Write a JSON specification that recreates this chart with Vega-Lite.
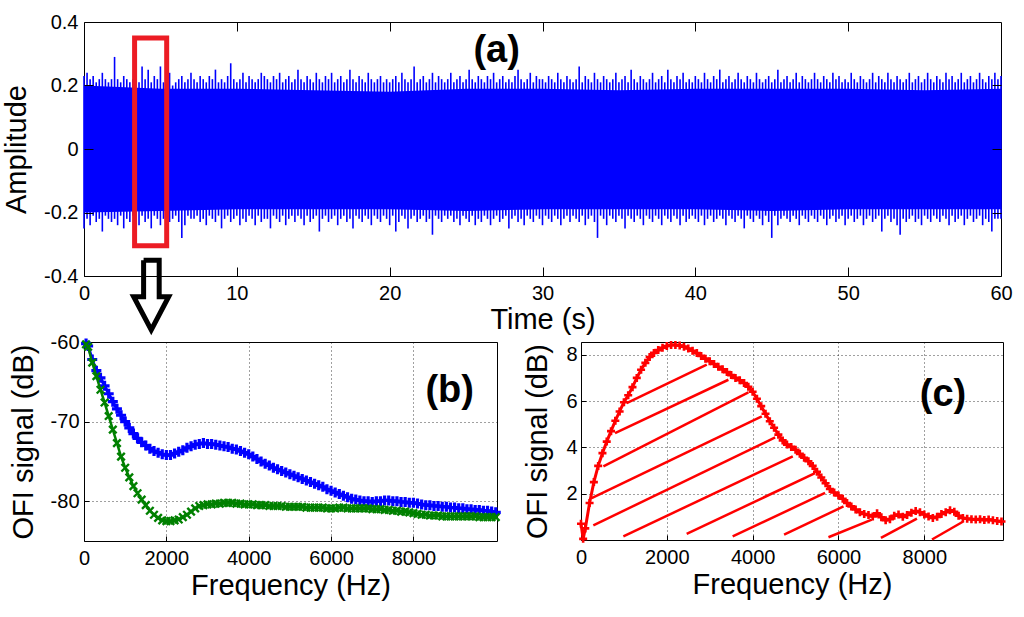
{
  "$schema": "https://vega.github.io/schema/vega-lite/v6.json",
  "background": "white",
  "padding": {"left": 2, "top": 11, "right": 5, "bottom": 5},
  "bounds": "flush",
  "spacing": 66,
  "config": {
    "font": "Liberation Sans",
    "view": {"stroke": "#000", "strokeWidth": 1},
    "axis": {
      "labelFont": "Liberation Sans", "labelFontSize": 20, "labelColor": "#000",
      "titleFont": "Liberation Sans", "titleFontSize": 29, "titleFontWeight": "normal", "titleColor": "#000",
      "domain": false, "tickColor": "#000", "tickWidth": 1, "labelFlush": false, "labelOverlap": false,
      "gridColor": "#000", "gridDash": [1, 3], "gridOpacity": 0.75, "gridWidth": 1
    }
  },
  "datasets": {
    "core": [
      {"t":0,"top":0.2,"bot":-0.2},{"t":5,"top":0.19,"bot":-0.195},{"t":10,"top":0.19,"bot":-0.19},
      {"t":15,"top":0.185,"bot":-0.19},{"t":20,"top":0.18,"bot":-0.19},{"t":25,"top":0.19,"bot":-0.195},
      {"t":30,"top":0.19,"bot":-0.19},{"t":35,"top":0.185,"bot":-0.19},{"t":40,"top":0.19,"bot":-0.19},
      {"t":45,"top":0.19,"bot":-0.195},{"t":50,"top":0.19,"bot":-0.19},{"t":55,"top":0.185,"bot":-0.19},
      {"t":60,"top":0.19,"bot":-0.19}
    ],
    "spikes": [
      {"t":0.0,"hi":0.23,"lo":-0.25},{"t":0.2,"hi":0.24,"lo":-0.22},{"t":0.4,"hi":0.22,"lo":-0.24},{"t":0.6,"hi":0.23,"lo":-0.21},{"t":0.8,"hi":0.21,"lo":-0.23},
      {"t":1.0,"hi":0.22,"lo":-0.22},{"t":1.2,"hi":0.24,"lo":-0.26},{"t":1.4,"hi":0.22,"lo":-0.21},{"t":1.6,"hi":0.21,"lo":-0.22},{"t":1.8,"hi":0.22,"lo":-0.23},
      {"t":2.0,"hi":0.29,"lo":-0.22},{"t":2.2,"hi":0.22,"lo":-0.24},{"t":2.4,"hi":0.21,"lo":-0.21},{"t":2.6,"hi":0.23,"lo":-0.25},{"t":2.8,"hi":0.22,"lo":-0.22},
      {"t":3.0,"hi":0.21,"lo":-0.23},{"t":3.2,"hi":0.22,"lo":-0.21},{"t":3.4,"hi":0.24,"lo":-0.22},{"t":3.6,"hi":0.21,"lo":-0.24},{"t":3.8,"hi":0.26,"lo":-0.21},
      {"t":4.0,"hi":0.22,"lo":-0.23},{"t":4.2,"hi":0.25,"lo":-0.22},{"t":4.4,"hi":0.21,"lo":-0.25},{"t":4.6,"hi":0.23,"lo":-0.21},{"t":4.8,"hi":0.22,"lo":-0.22},
      {"t":5.0,"hi":0.26,"lo":-0.24},{"t":5.2,"hi":0.21,"lo":-0.22},{"t":5.4,"hi":0.22,"lo":-0.21},{"t":5.6,"hi":0.24,"lo":-0.23},{"t":5.8,"hi":0.20,"lo":-0.22},
      {"t":6.0,"hi":0.21,"lo":-0.21},{"t":6.2,"hi":0.22,"lo":-0.23},{"t":6.4,"hi":0.23,"lo":-0.28},{"t":6.6,"hi":0.21,"lo":-0.24},{"t":6.8,"hi":0.22,"lo":-0.21},
      {"t":7.0,"hi":0.24,"lo":-0.22},{"t":7.2,"hi":0.22,"lo":-0.22},{"t":7.4,"hi":0.21,"lo":-0.21},{"t":7.6,"hi":0.23,"lo":-0.23},{"t":7.8,"hi":0.22,"lo":-0.22},
      {"t":8.0,"hi":0.21,"lo":-0.24},{"t":8.2,"hi":0.23,"lo":-0.21},{"t":8.4,"hi":0.22,"lo":-0.22},{"t":8.6,"hi":0.25,"lo":-0.23},{"t":8.8,"hi":0.21,"lo":-0.21},
      {"t":9.0,"hi":0.22,"lo":-0.25},{"t":9.2,"hi":0.21,"lo":-0.22},{"t":9.4,"hi":0.23,"lo":-0.21},{"t":9.6,"hi":0.27,"lo":-0.23},{"t":9.8,"hi":0.22,"lo":-0.22},
      {"t":10.0,"hi":0.21,"lo":-0.21},{"t":10.2,"hi":0.22,"lo":-0.24},{"t":10.4,"hi":0.24,"lo":-0.22},{"t":10.6,"hi":0.21,"lo":-0.23},{"t":10.8,"hi":0.23,"lo":-0.21},
      {"t":11.0,"hi":0.22,"lo":-0.22},{"t":11.2,"hi":0.21,"lo":-0.24},{"t":11.4,"hi":0.22,"lo":-0.21},{"t":11.6,"hi":0.24,"lo":-0.23},{"t":11.8,"hi":0.23,"lo":-0.22},
      {"t":12.0,"hi":0.22,"lo":-0.22},{"t":12.2,"hi":0.21,"lo":-0.25},{"t":12.4,"hi":0.23,"lo":-0.21},{"t":12.6,"hi":0.22,"lo":-0.22},{"t":12.8,"hi":0.24,"lo":-0.23},
      {"t":13.0,"hi":0.21,"lo":-0.21},{"t":13.2,"hi":0.22,"lo":-0.24},{"t":13.4,"hi":0.23,"lo":-0.22},{"t":13.6,"hi":0.21,"lo":-0.21},{"t":13.8,"hi":0.22,"lo":-0.23},
      {"t":14.0,"hi":0.25,"lo":-0.21},{"t":14.2,"hi":0.22,"lo":-0.22},{"t":14.4,"hi":0.21,"lo":-0.24},{"t":14.6,"hi":0.23,"lo":-0.21},{"t":14.8,"hi":0.22,"lo":-0.23},
      {"t":15.0,"hi":0.21,"lo":-0.22},{"t":15.2,"hi":0.24,"lo":-0.21},{"t":15.4,"hi":0.22,"lo":-0.26},{"t":15.6,"hi":0.21,"lo":-0.22},{"t":15.8,"hi":0.23,"lo":-0.21},
      {"t":16.0,"hi":0.22,"lo":-0.23},{"t":16.2,"hi":0.24,"lo":-0.22},{"t":16.4,"hi":0.21,"lo":-0.21},{"t":16.6,"hi":0.22,"lo":-0.24},{"t":16.8,"hi":0.23,"lo":-0.22},
      {"t":17.0,"hi":0.21,"lo":-0.21},{"t":17.2,"hi":0.22,"lo":-0.23},{"t":17.4,"hi":0.25,"lo":-0.22},{"t":17.6,"hi":0.22,"lo":-0.25},{"t":17.8,"hi":0.21,"lo":-0.21},
      {"t":18.0,"hi":0.23,"lo":-0.22},{"t":18.2,"hi":0.22,"lo":-0.23},{"t":18.4,"hi":0.21,"lo":-0.21},{"t":18.6,"hi":0.24,"lo":-0.22},{"t":18.8,"hi":0.22,"lo":-0.24},
      {"t":19.0,"hi":0.21,"lo":-0.21},{"t":19.2,"hi":0.22,"lo":-0.22},{"t":19.4,"hi":0.23,"lo":-0.23},{"t":19.6,"hi":0.21,"lo":-0.21},{"t":19.8,"hi":0.22,"lo":-0.22},
      {"t":20.0,"hi":0.21,"lo":-0.24},{"t":20.2,"hi":0.22,"lo":-0.21},{"t":20.4,"hi":0.23,"lo":-0.26},{"t":20.6,"hi":0.21,"lo":-0.23},{"t":20.8,"hi":0.24,"lo":-0.21},
      {"t":21.0,"hi":0.22,"lo":-0.22},{"t":21.2,"hi":0.21,"lo":-0.25},{"t":21.4,"hi":0.22,"lo":-0.22},{"t":21.6,"hi":0.26,"lo":-0.21},{"t":21.8,"hi":0.21,"lo":-0.23},
      {"t":22.0,"hi":0.22,"lo":-0.22},{"t":22.2,"hi":0.23,"lo":-0.21},{"t":22.4,"hi":0.21,"lo":-0.23},{"t":22.6,"hi":0.22,"lo":-0.22},{"t":22.8,"hi":0.24,"lo":-0.27},
      {"t":23.0,"hi":0.21,"lo":-0.21},{"t":23.2,"hi":0.23,"lo":-0.22},{"t":23.4,"hi":0.22,"lo":-0.23},{"t":23.6,"hi":0.21,"lo":-0.21},{"t":23.8,"hi":0.22,"lo":-0.22},
      {"t":24.0,"hi":0.24,"lo":-0.21},{"t":24.2,"hi":0.21,"lo":-0.23},{"t":24.4,"hi":0.22,"lo":-0.22},{"t":24.6,"hi":0.23,"lo":-0.24},{"t":24.8,"hi":0.21,"lo":-0.21},
      {"t":25.0,"hi":0.22,"lo":-0.22},{"t":25.2,"hi":0.25,"lo":-0.23},{"t":25.4,"hi":0.22,"lo":-0.21},{"t":25.6,"hi":0.21,"lo":-0.24},{"t":25.8,"hi":0.23,"lo":-0.22},
      {"t":26.0,"hi":0.22,"lo":-0.23},{"t":26.2,"hi":0.21,"lo":-0.21},{"t":26.4,"hi":0.23,"lo":-0.22},{"t":26.6,"hi":0.22,"lo":-0.24},{"t":26.8,"hi":0.24,"lo":-0.22},
      {"t":27.0,"hi":0.21,"lo":-0.21},{"t":27.2,"hi":0.22,"lo":-0.23},{"t":27.4,"hi":0.23,"lo":-0.22},{"t":27.6,"hi":0.21,"lo":-0.21},{"t":27.8,"hi":0.22,"lo":-0.25},
      {"t":28.0,"hi":0.21,"lo":-0.22},{"t":28.2,"hi":0.23,"lo":-0.21},{"t":28.4,"hi":0.25,"lo":-0.23},{"t":28.6,"hi":0.22,"lo":-0.22},{"t":28.8,"hi":0.21,"lo":-0.24},
      {"t":29.0,"hi":0.22,"lo":-0.21},{"t":29.2,"hi":0.24,"lo":-0.22},{"t":29.4,"hi":0.21,"lo":-0.23},{"t":29.6,"hi":0.23,"lo":-0.21},{"t":29.8,"hi":0.22,"lo":-0.22},
      {"t":30.0,"hi":0.22,"lo":-0.24},{"t":30.2,"hi":0.21,"lo":-0.21},{"t":30.4,"hi":0.23,"lo":-0.22},{"t":30.6,"hi":0.22,"lo":-0.23},{"t":30.8,"hi":0.21,"lo":-0.21},
      {"t":31.0,"hi":0.24,"lo":-0.22},{"t":31.2,"hi":0.22,"lo":-0.24},{"t":31.4,"hi":0.21,"lo":-0.22},{"t":31.6,"hi":0.23,"lo":-0.21},{"t":31.8,"hi":0.22,"lo":-0.23},
      {"t":32.0,"hi":0.21,"lo":-0.21},{"t":32.2,"hi":0.22,"lo":-0.22},{"t":32.4,"hi":0.26,"lo":-0.23},{"t":32.6,"hi":0.21,"lo":-0.21},{"t":32.8,"hi":0.23,"lo":-0.24},
      {"t":33.0,"hi":0.22,"lo":-0.22},{"t":33.2,"hi":0.21,"lo":-0.21},{"t":33.4,"hi":0.24,"lo":-0.23},{"t":33.6,"hi":0.22,"lo":-0.28},{"t":33.8,"hi":0.21,"lo":-0.21},
      {"t":34.0,"hi":0.23,"lo":-0.22},{"t":34.2,"hi":0.22,"lo":-0.24},{"t":34.4,"hi":0.21,"lo":-0.21},{"t":34.6,"hi":0.22,"lo":-0.22},{"t":34.8,"hi":0.24,"lo":-0.23},
      {"t":35.0,"hi":0.21,"lo":-0.21},{"t":35.2,"hi":0.22,"lo":-0.22},{"t":35.4,"hi":0.23,"lo":-0.25},{"t":35.6,"hi":0.21,"lo":-0.21},{"t":35.8,"hi":0.25,"lo":-0.22},
      {"t":36.0,"hi":0.22,"lo":-0.23},{"t":36.2,"hi":0.21,"lo":-0.21},{"t":36.4,"hi":0.23,"lo":-0.22},{"t":36.6,"hi":0.22,"lo":-0.24},{"t":36.8,"hi":0.21,"lo":-0.21},
      {"t":37.0,"hi":0.22,"lo":-0.22},{"t":37.2,"hi":0.24,"lo":-0.23},{"t":37.4,"hi":0.21,"lo":-0.21},{"t":37.6,"hi":0.22,"lo":-0.22},{"t":37.8,"hi":0.23,"lo":-0.24},
      {"t":38.0,"hi":0.21,"lo":-0.21},{"t":38.2,"hi":0.25,"lo":-0.22},{"t":38.4,"hi":0.22,"lo":-0.23},{"t":38.6,"hi":0.21,"lo":-0.21},{"t":38.8,"hi":0.23,"lo":-0.22},
      {"t":39.0,"hi":0.22,"lo":-0.24},{"t":39.2,"hi":0.24,"lo":-0.21},{"t":39.4,"hi":0.21,"lo":-0.23},{"t":39.6,"hi":0.22,"lo":-0.22},{"t":39.8,"hi":0.21,"lo":-0.21},
      {"t":40.0,"hi":0.23,"lo":-0.22},{"t":40.2,"hi":0.22,"lo":-0.23},{"t":40.4,"hi":0.21,"lo":-0.21},{"t":40.6,"hi":0.24,"lo":-0.24},{"t":40.8,"hi":0.22,"lo":-0.22},
      {"t":41.0,"hi":0.21,"lo":-0.21},{"t":41.2,"hi":0.23,"lo":-0.23},{"t":41.4,"hi":0.22,"lo":-0.22},{"t":41.6,"hi":0.25,"lo":-0.21},{"t":41.8,"hi":0.21,"lo":-0.22},
      {"t":42.0,"hi":0.22,"lo":-0.24},{"t":42.2,"hi":0.23,"lo":-0.21},{"t":42.4,"hi":0.21,"lo":-0.22},{"t":42.6,"hi":0.22,"lo":-0.23},{"t":42.8,"hi":0.24,"lo":-0.21},
      {"t":43.0,"hi":0.22,"lo":-0.22},{"t":43.2,"hi":0.21,"lo":-0.25},{"t":43.4,"hi":0.23,"lo":-0.21},{"t":43.6,"hi":0.22,"lo":-0.22},{"t":43.8,"hi":0.21,"lo":-0.23},
      {"t":44.0,"hi":0.24,"lo":-0.21},{"t":44.2,"hi":0.22,"lo":-0.22},{"t":44.4,"hi":0.21,"lo":-0.24},{"t":44.6,"hi":0.22,"lo":-0.21},{"t":44.8,"hi":0.23,"lo":-0.23},
      {"t":45.0,"hi":0.21,"lo":-0.28},{"t":45.2,"hi":0.22,"lo":-0.21},{"t":45.4,"hi":0.25,"lo":-0.24},{"t":45.6,"hi":0.21,"lo":-0.22},{"t":45.8,"hi":0.22,"lo":-0.21},
      {"t":46.0,"hi":0.23,"lo":-0.22},{"t":46.2,"hi":0.21,"lo":-0.23},{"t":46.4,"hi":0.22,"lo":-0.21},{"t":46.6,"hi":0.24,"lo":-0.22},{"t":46.8,"hi":0.21,"lo":-0.24},
      {"t":47.0,"hi":0.23,"lo":-0.21},{"t":47.2,"hi":0.22,"lo":-0.22},{"t":47.4,"hi":0.21,"lo":-0.23},{"t":47.6,"hi":0.22,"lo":-0.21},{"t":47.8,"hi":0.24,"lo":-0.22},
      {"t":48.0,"hi":0.22,"lo":-0.23},{"t":48.2,"hi":0.21,"lo":-0.21},{"t":48.4,"hi":0.23,"lo":-0.22},{"t":48.6,"hi":0.22,"lo":-0.24},{"t":48.8,"hi":0.21,"lo":-0.22},
      {"t":49.0,"hi":0.24,"lo":-0.21},{"t":49.2,"hi":0.22,"lo":-0.23},{"t":49.4,"hi":0.23,"lo":-0.22},{"t":49.6,"hi":0.21,"lo":-0.21},{"t":49.8,"hi":0.22,"lo":-0.24},
      {"t":50.0,"hi":0.21,"lo":-0.22},{"t":50.2,"hi":0.24,"lo":-0.21},{"t":50.4,"hi":0.22,"lo":-0.23},{"t":50.6,"hi":0.21,"lo":-0.22},{"t":50.8,"hi":0.23,"lo":-0.21},
      {"t":51.0,"hi":0.22,"lo":-0.24},{"t":51.2,"hi":0.21,"lo":-0.22},{"t":51.4,"hi":0.22,"lo":-0.21},{"t":51.6,"hi":0.24,"lo":-0.23},{"t":51.8,"hi":0.21,"lo":-0.22},
      {"t":52.0,"hi":0.23,"lo":-0.21},{"t":52.2,"hi":0.22,"lo":-0.26},{"t":52.4,"hi":0.21,"lo":-0.22},{"t":52.6,"hi":0.24,"lo":-0.21},{"t":52.8,"hi":0.22,"lo":-0.23},
      {"t":53.0,"hi":0.21,"lo":-0.22},{"t":53.2,"hi":0.23,"lo":-0.24},{"t":53.4,"hi":0.22,"lo":-0.27},{"t":53.6,"hi":0.21,"lo":-0.22},{"t":53.8,"hi":0.22,"lo":-0.23},
      {"t":54.0,"hi":0.24,"lo":-0.22},{"t":54.2,"hi":0.21,"lo":-0.21},{"t":54.4,"hi":0.22,"lo":-0.23},{"t":54.6,"hi":0.23,"lo":-0.22},{"t":54.8,"hi":0.21,"lo":-0.24},
      {"t":55.0,"hi":0.22,"lo":-0.21},{"t":55.2,"hi":0.24,"lo":-0.22},{"t":55.4,"hi":0.22,"lo":-0.23},{"t":55.6,"hi":0.21,"lo":-0.21},{"t":55.8,"hi":0.23,"lo":-0.22},
      {"t":56.0,"hi":0.22,"lo":-0.23},{"t":56.2,"hi":0.21,"lo":-0.21},{"t":56.4,"hi":0.24,"lo":-0.22},{"t":56.6,"hi":0.22,"lo":-0.24},{"t":56.8,"hi":0.23,"lo":-0.21},
      {"t":57.0,"hi":0.21,"lo":-0.23},{"t":57.2,"hi":0.22,"lo":-0.22},{"t":57.4,"hi":0.24,"lo":-0.21},{"t":57.6,"hi":0.21,"lo":-0.24},{"t":57.8,"hi":0.22,"lo":-0.22},
      {"t":58.0,"hi":0.23,"lo":-0.21},{"t":58.2,"hi":0.21,"lo":-0.23},{"t":58.4,"hi":0.22,"lo":-0.22},{"t":58.6,"hi":0.24,"lo":-0.21},{"t":58.8,"hi":0.22,"lo":-0.24},
      {"t":59.0,"hi":0.21,"lo":-0.22},{"t":59.2,"hi":0.23,"lo":-0.23},{"t":59.4,"hi":0.22,"lo":-0.26},{"t":59.6,"hi":0.24,"lo":-0.22},{"t":59.8,"hi":0.22,"lo":-0.22},
      {"t":60.0,"hi":0.23,"lo":-0.22}
    ],
    "arrow": [
      {"k":1,"t":3.9,"amp":-0.35},{"k":2,"t":4.92,"amp":-0.35},{"k":3,"t":4.92,"amp":-0.465},{"k":4,"t":5.54,"amp":-0.465},
      {"k":5,"t":4.4,"amp":-0.57},{"k":6,"t":3.25,"amp":-0.465},{"k":7,"t":3.9,"amp":-0.465},{"k":8,"t":3.9,"amp":-0.35}
    ],
    "blue": [
      {"f":50,"db":-60.2},{"f":100,"db":-60.5},{"f":200,"db":-62.2},{"f":300,"db":-63.6},{"f":400,"db":-64.5},{"f":500,"db":-65.5},
      {"f":600,"db":-66.5},{"f":700,"db":-67.5},{"f":800,"db":-68.4},{"f":900,"db":-69.2},{"f":1000,"db":-70.0},
      {"f":1100,"db":-70.8},{"f":1200,"db":-71.5},{"f":1300,"db":-72.1},{"f":1400,"db":-72.6},{"f":1500,"db":-73.0},
      {"f":1600,"db":-73.4},{"f":1700,"db":-73.7},{"f":1800,"db":-73.9},{"f":1900,"db":-74.1},{"f":2000,"db":-74.2},
      {"f":2100,"db":-74.2},{"f":2200,"db":-74.0},{"f":2300,"db":-73.8},{"f":2400,"db":-73.6},{"f":2500,"db":-73.3},
      {"f":2600,"db":-73.1},{"f":2700,"db":-72.9},{"f":2800,"db":-72.8},{"f":2900,"db":-72.7},{"f":3000,"db":-72.8},
      {"f":3100,"db":-72.8},{"f":3200,"db":-72.9},{"f":3300,"db":-73.0},{"f":3400,"db":-73.1},{"f":3500,"db":-73.2},
      {"f":3600,"db":-73.4},{"f":3700,"db":-73.5},{"f":3800,"db":-73.7},{"f":3900,"db":-73.9},{"f":4000,"db":-74.1},
      {"f":4100,"db":-74.4},{"f":4200,"db":-74.7},{"f":4300,"db":-75.0},{"f":4400,"db":-75.3},{"f":4500,"db":-75.5},
      {"f":4600,"db":-75.8},{"f":4700,"db":-76.0},{"f":4800,"db":-76.2},{"f":4900,"db":-76.4},{"f":5000,"db":-76.6},
      {"f":5100,"db":-76.8},{"f":5200,"db":-77.0},{"f":5300,"db":-77.2},{"f":5400,"db":-77.4},{"f":5500,"db":-77.6},
      {"f":5600,"db":-77.8},{"f":5700,"db":-78.0},{"f":5800,"db":-78.2},{"f":5900,"db":-78.5},{"f":6000,"db":-78.7},
      {"f":6100,"db":-78.9},{"f":6200,"db":-79.1},{"f":6300,"db":-79.3},{"f":6400,"db":-79.5},{"f":6500,"db":-79.7},
      {"f":6600,"db":-79.8},{"f":6700,"db":-79.9},{"f":6800,"db":-80.0},{"f":6900,"db":-80.0},{"f":7000,"db":-80.1},
      {"f":7100,"db":-80.0},{"f":7200,"db":-80.0},{"f":7300,"db":-79.9},{"f":7400,"db":-79.9},{"f":7500,"db":-80.0},
      {"f":7600,"db":-80.0},{"f":7700,"db":-80.1},{"f":7800,"db":-80.1},{"f":7900,"db":-80.2},{"f":8000,"db":-80.2},
      {"f":8100,"db":-80.3},{"f":8200,"db":-80.4},{"f":8300,"db":-80.5},{"f":8400,"db":-80.5},{"f":8500,"db":-80.6},
      {"f":8600,"db":-80.6},{"f":8700,"db":-80.7},{"f":8800,"db":-80.7},{"f":8900,"db":-80.8},{"f":9000,"db":-80.8},
      {"f":9100,"db":-80.9},{"f":9200,"db":-80.9},{"f":9300,"db":-81.0},{"f":9400,"db":-81.0},{"f":9500,"db":-81.1},
      {"f":9600,"db":-81.1},{"f":9700,"db":-81.2},{"f":9800,"db":-81.2},{"f":9900,"db":-81.3},{"f":10000,"db":-81.4}
    ],
    "green": [
      {"f":50,"db":-60.3},{"f":100,"db":-60.6},{"f":200,"db":-62.6},{"f":300,"db":-64.3},{"f":400,"db":-66.0},{"f":500,"db":-67.6},
      {"f":600,"db":-69.3},{"f":700,"db":-71.0},{"f":800,"db":-72.7},{"f":900,"db":-74.4},{"f":1000,"db":-75.8},
      {"f":1100,"db":-77.0},{"f":1200,"db":-78.1},{"f":1300,"db":-79.0},{"f":1400,"db":-79.8},{"f":1500,"db":-80.5},
      {"f":1600,"db":-81.2},{"f":1700,"db":-81.7},{"f":1800,"db":-82.1},{"f":1900,"db":-82.4},{"f":2000,"db":-82.5},
      {"f":2100,"db":-82.5},{"f":2200,"db":-82.4},{"f":2300,"db":-82.3},{"f":2400,"db":-82.0},{"f":2500,"db":-81.7},
      {"f":2600,"db":-81.3},{"f":2700,"db":-80.9},{"f":2800,"db":-80.6},{"f":2900,"db":-80.5},{"f":3000,"db":-80.4},
      {"f":3100,"db":-80.4},{"f":3200,"db":-80.3},{"f":3300,"db":-80.3},{"f":3400,"db":-80.2},{"f":3500,"db":-80.2},
      {"f":3600,"db":-80.2},{"f":3700,"db":-80.3},{"f":3800,"db":-80.3},{"f":3900,"db":-80.4},{"f":4000,"db":-80.4},
      {"f":4100,"db":-80.4},{"f":4200,"db":-80.5},{"f":4300,"db":-80.5},{"f":4400,"db":-80.5},{"f":4500,"db":-80.6},
      {"f":4600,"db":-80.6},{"f":4700,"db":-80.6},{"f":4800,"db":-80.6},{"f":4900,"db":-80.7},{"f":5000,"db":-80.7},
      {"f":5100,"db":-80.7},{"f":5200,"db":-80.7},{"f":5300,"db":-80.7},{"f":5400,"db":-80.8},{"f":5500,"db":-80.8},
      {"f":5600,"db":-80.8},{"f":5700,"db":-80.8},{"f":5800,"db":-80.8},{"f":5900,"db":-80.9},{"f":6000,"db":-80.9},
      {"f":6100,"db":-80.9},{"f":6200,"db":-80.8},{"f":6300,"db":-80.8},{"f":6400,"db":-80.9},{"f":6500,"db":-80.9},
      {"f":6600,"db":-80.9},{"f":6700,"db":-80.9},{"f":6800,"db":-80.9},{"f":6900,"db":-80.9},{"f":7000,"db":-81.0},
      {"f":7100,"db":-81.0},{"f":7200,"db":-81.0},{"f":7300,"db":-81.1},{"f":7400,"db":-81.1},{"f":7500,"db":-81.2},
      {"f":7600,"db":-81.2},{"f":7700,"db":-81.3},{"f":7800,"db":-81.3},{"f":7900,"db":-81.4},{"f":8000,"db":-81.5},
      {"f":8100,"db":-81.6},{"f":8200,"db":-81.7},{"f":8300,"db":-81.7},{"f":8400,"db":-81.8},{"f":8500,"db":-81.8},
      {"f":8600,"db":-81.8},{"f":8700,"db":-81.9},{"f":8800,"db":-81.9},{"f":8900,"db":-81.9},{"f":9000,"db":-81.9},
      {"f":9100,"db":-81.9},{"f":9200,"db":-81.9},{"f":9300,"db":-81.9},{"f":9400,"db":-81.9},{"f":9500,"db":-81.9},
      {"f":9600,"db":-82.0},{"f":9700,"db":-82.0},{"f":9800,"db":-82.0},{"f":9900,"db":-82.0},{"f":10000,"db":-82.0}
    ],
    "red": [
      {"f":0,"db":0.7},{"f":50,"db":0.05},{"f":100,"db":0.5},{"f":200,"db":1.6},{"f":300,"db":2.5},{"f":400,"db":3.2},
      {"f":500,"db":3.75},{"f":600,"db":4.25},{"f":700,"db":4.7},{"f":800,"db":5.15},{"f":900,"db":5.55},
      {"f":1000,"db":5.95},{"f":1100,"db":6.25},{"f":1200,"db":6.6},{"f":1300,"db":7.0},{"f":1400,"db":7.35},
      {"f":1500,"db":7.65},{"f":1600,"db":7.9},{"f":1700,"db":8.08},{"f":1800,"db":8.2},{"f":1900,"db":8.3},
      {"f":2000,"db":8.38},{"f":2100,"db":8.42},{"f":2200,"db":8.42},{"f":2300,"db":8.4},{"f":2400,"db":8.35},
      {"f":2500,"db":8.27},{"f":2600,"db":8.17},{"f":2700,"db":8.07},{"f":2800,"db":7.95},{"f":2900,"db":7.83},
      {"f":3000,"db":7.72},{"f":3100,"db":7.6},{"f":3200,"db":7.48},{"f":3300,"db":7.37},{"f":3400,"db":7.25},
      {"f":3500,"db":7.12},{"f":3600,"db":7.0},{"f":3700,"db":6.9},{"f":3800,"db":6.78},{"f":3900,"db":6.62},
      {"f":4000,"db":6.4},{"f":4100,"db":6.1},{"f":4200,"db":5.78},{"f":4300,"db":5.45},{"f":4400,"db":5.13},
      {"f":4500,"db":4.85},{"f":4600,"db":4.55},{"f":4700,"db":4.3},{"f":4800,"db":4.12},{"f":4900,"db":4.02},
      {"f":5000,"db":3.9},{"f":5100,"db":3.72},{"f":5200,"db":3.55},{"f":5300,"db":3.4},{"f":5400,"db":3.2},
      {"f":5500,"db":2.95},{"f":5600,"db":2.7},{"f":5700,"db":2.45},{"f":5800,"db":2.2},{"f":5900,"db":2.05},
      {"f":6000,"db":1.92},{"f":6100,"db":1.78},{"f":6200,"db":1.6},{"f":6300,"db":1.45},{"f":6400,"db":1.32},
      {"f":6500,"db":1.2},{"f":6600,"db":1.12},{"f":6700,"db":1.08},{"f":6800,"db":1.02},{"f":6900,"db":1.15},
      {"f":7000,"db":0.98},{"f":7100,"db":0.85},{"f":7200,"db":0.9},{"f":7300,"db":1.05},{"f":7400,"db":1.1},
      {"f":7500,"db":1.0},{"f":7600,"db":1.08},{"f":7700,"db":1.18},{"f":7800,"db":1.25},{"f":7900,"db":1.2},
      {"f":8000,"db":1.1},{"f":8100,"db":1.02},{"f":8200,"db":0.95},{"f":8300,"db":1.0},{"f":8400,"db":1.12},
      {"f":8500,"db":1.2},{"f":8600,"db":1.28},{"f":8700,"db":1.22},{"f":8800,"db":1.05},{"f":8900,"db":0.95},
      {"f":9000,"db":0.92},{"f":9100,"db":0.9},{"f":9200,"db":0.88},{"f":9300,"db":0.9},{"f":9400,"db":0.86},
      {"f":9500,"db":0.88},{"f":9600,"db":0.85},{"f":9700,"db":0.82},{"f":9800,"db":0.8}
    ],
    "hatch": [
      {"f1":1065,"d1":5.91,"f2":2931,"d2":7.57},{"f1":793,"d1":4.62,"f2":3435,"d2":6.92},
      {"f1":521,"d1":3.18,"f2":3901,"d2":6.37},{"f1":249,"d1":1.81,"f2":4213,"d2":5.34},
      {"f1":287,"d1":0.63,"f2":4525,"d2":4.43},{"f1":987,"d1":0.16,"f2":4936,"d2":3.61},
      {"f1":2463,"d1":0.26,"f2":5455,"d2":2.89},{"f1":3535,"d1":0.16,"f2":5688,"d2":2.03},
      {"f1":4733,"d1":0.23,"f2":6118,"d2":1.45},{"f1":5767,"d1":0.12,"f2":6778,"d2":0.88},
      {"f1":6990,"d1":0.09,"f2":7829,"d2":0.92},{"f1":8180,"d1":0.02,"f2":8919,"d2":0.81}
    ]
  },
  "vconcat": [
    {
      "width": 917,
      "height": 254,
      "layer": [
        {
          "data": {"name": "core"},
          "mark": {"type": "area", "color": "#0000ff", "opacity": 1},
          "encoding": {
            "x": {"field": "t", "type": "quantitative", "scale": {"domain": [0, 60], "nice": false, "zero": false},
              "axis": {"title": "Time (s)", "values": [0, 10, 20, 30, 40, 50, 60], "format": "d", "tickSize": -9, "grid": false,
                "labelPadding": 16.5, "titlePadding": 2, "zindex": 1}},
            "y": {"field": "top", "type": "quantitative", "scale": {"domain": [-0.4, 0.4], "nice": false, "zero": false},
              "axis": {"title": "Amplitude", "values": [-0.4, -0.2, 0, 0.2, 0.4], "tickSize": -9, "labelPadding": 15, "grid": false,
                "titlePadding": 12, "zindex": 1, "labelExpr": "replace(format(datum.value, '~g'), '\u2212', '-')"}},
            "y2": {"field": "bot"}
          }
        },
        {
          "data": {"name": "spikes"},
          "mark": {"type": "rule", "color": "#0000ff", "strokeWidth": 1.6},
          "encoding": {
            "x": {"field": "t", "type": "quantitative",
              "axis": {"orient": "top", "values": [10, 20, 30, 40, 50], "labels": false, "title": null, "tickSize": -9, "grid": false, "zindex": 1}},
            "y": {"field": "lo", "type": "quantitative",
              "axis": {"orient": "right", "values": [-0.2, 0, 0.2], "labels": false, "title": null, "tickSize": -9, "grid": false, "zindex": 1}},
            "y2": {"field": "hi"}
          }
        },
        {
          "data": {"values": [{"t0": 3.31, "t1": 5.41, "a0": -0.305, "a1": 0.35}]},
          "mark": {"type": "rect", "filled": false, "stroke": "#ec1c24", "strokeWidth": 5},
          "encoding": {
            "x": {"field": "t0", "type": "quantitative", "axis": null},
            "x2": {"field": "t1"},
            "y": {"field": "a0", "type": "quantitative", "axis": null},
            "y2": {"field": "a1"}
          }
        },
        {
          "data": {"name": "arrow"},
          "mark": {"type": "line", "color": "#000", "strokeWidth": 5, "strokeJoin": "miter", "clip": false},
          "encoding": {
            "x": {"field": "t", "type": "quantitative", "axis": null},
            "y": {"field": "amp", "type": "quantitative", "axis": null},
            "order": {"field": "k"}
          }
        },
        {
          "data": {"values": [{"t": 27, "amp": 0.31, "label": "(a)"}]},
          "mark": {"type": "text", "fontSize": 38, "fontWeight": "bold", "align": "center", "baseline": "middle", "color": "#000"},
          "encoding": {
            "x": {"field": "t", "type": "quantitative", "axis": null},
            "y": {"field": "amp", "type": "quantitative", "axis": null},
            "text": {"field": "label"}
          }
        }
      ],
      "resolve": {"axis": {"x": "independent", "y": "independent"}}
    },
    {
      "hconcat": [
        {
          "width": 413,
          "height": 199,
          "layer": [
            {
              "data": {"name": "blue"},
              "mark": {"type": "line", "color": "#0000ff", "strokeWidth": 3},
              "encoding": {
                "x": {"field": "f", "type": "quantitative", "scale": {"domain": [0, 10030], "nice": false, "zero": false},
                  "axis": {"title": "Frequency (Hz)", "values": [0, 2000, 4000, 6000, 8000], "format": "d", "grid": true,
                    "tickSize": -5, "labelPadding": 12.5, "titlePadding": 3}},
                "y": {"field": "db", "type": "quantitative", "scale": {"domain": [-85, -60], "nice": false, "zero": false},
                  "axis": {"title": "OFI signal (dB)", "values": [-80, -70, -60], "grid": true, "tickSize": -5,
                    "labelPadding": 10, "titlePadding": 12, "labelExpr": "replace(format(datum.value, 'd'), '\u2212', '-')"}}
              }
            },
            {
              "data": {"name": "blue"},
              "mark": {"type": "point", "shape": "M-1,0H1M0,-1V1", "filled": false, "color": "#0000ff", "strokeWidth": 3.2, "size": 100, "opacity": 1},
              "encoding": {
                "x": {"field": "f", "type": "quantitative"},
                "y": {"field": "db", "type": "quantitative"}
              }
            },
            {
              "data": {"name": "green"},
              "mark": {"type": "line", "color": "#008000", "strokeWidth": 2.5},
              "encoding": {
                "x": {"field": "f", "type": "quantitative"},
                "y": {"field": "db", "type": "quantitative"}
              }
            },
            {
              "data": {"name": "green"},
              "mark": {"type": "point", "shape": "M-1,-1L1,1M-1,1L1,-1", "filled": false, "color": "#008000", "strokeWidth": 2.4, "size": 56, "opacity": 1},
              "encoding": {
                "x": {"field": "f", "type": "quantitative"},
                "y": {"field": "db", "type": "quantitative"}
              }
            },
            {
              "data": {"values": [{"f": 8880, "db": -66.2, "label": "(b)"}]},
              "mark": {"type": "text", "fontSize": 38, "fontWeight": "bold", "align": "center", "baseline": "middle", "color": "#000"},
              "encoding": {
                "x": {"field": "f", "type": "quantitative"},
                "y": {"field": "db", "type": "quantitative"},
                "text": {"field": "label"}
              }
            }
          ]
        },
        {
          "width": 422,
          "height": 198,
          "layer": [
            {
              "data": {"name": "hatch"},
              "mark": {"type": "rule", "color": "#ff0000", "strokeWidth": 2.5},
              "encoding": {
                "x": {"field": "f1", "type": "quantitative", "scale": {"domain": [0, 9835], "nice": false, "zero": false},
                  "axis": {"title": "Frequency (Hz)", "values": [0, 2000, 4000, 6000, 8000], "format": "d", "grid": true,
                    "tickSize": -5, "labelPadding": 12.6, "titlePadding": 3}},
                "y": {"field": "d1", "type": "quantitative", "scale": {"domain": [0, 8.55], "nice": false, "zero": false},
                  "axis": {"title": "OFI signal (dB)", "values": [2, 4, 6, 8], "grid": true, "tickSize": -5,
                    "labelPadding": 9, "titlePadding": 13}},
                "x2": {"field": "f2"},
                "y2": {"field": "d2"}
              }
            },
            {
              "data": {"name": "red"},
              "mark": {"type": "line", "color": "#ff0000", "strokeWidth": 3},
              "encoding": {
                "x": {"field": "f", "type": "quantitative"},
                "y": {"field": "db", "type": "quantitative"}
              }
            },
            {
              "data": {"name": "red"},
              "mark": {"type": "point", "shape": "M-1,0H1M0,-1V1", "filled": false, "color": "#ff0000", "strokeWidth": 2.6, "size": 64, "opacity": 1},
              "encoding": {
                "x": {"field": "f", "type": "quantitative"},
                "y": {"field": "db", "type": "quantitative"}
              }
            },
            {
              "data": {"values": [{"f": 8436, "db": 6.27, "label": "(c)"}]},
              "mark": {"type": "text", "fontSize": 38, "fontWeight": "bold", "align": "center", "baseline": "middle", "color": "#000"},
              "encoding": {
                "x": {"field": "f", "type": "quantitative"},
                "y": {"field": "db", "type": "quantitative"},
                "text": {"field": "label"}
              }
            }
          ]
        }
      ],
      "spacing": 84,
      "bounds": "flush"
    }
  ]
}
